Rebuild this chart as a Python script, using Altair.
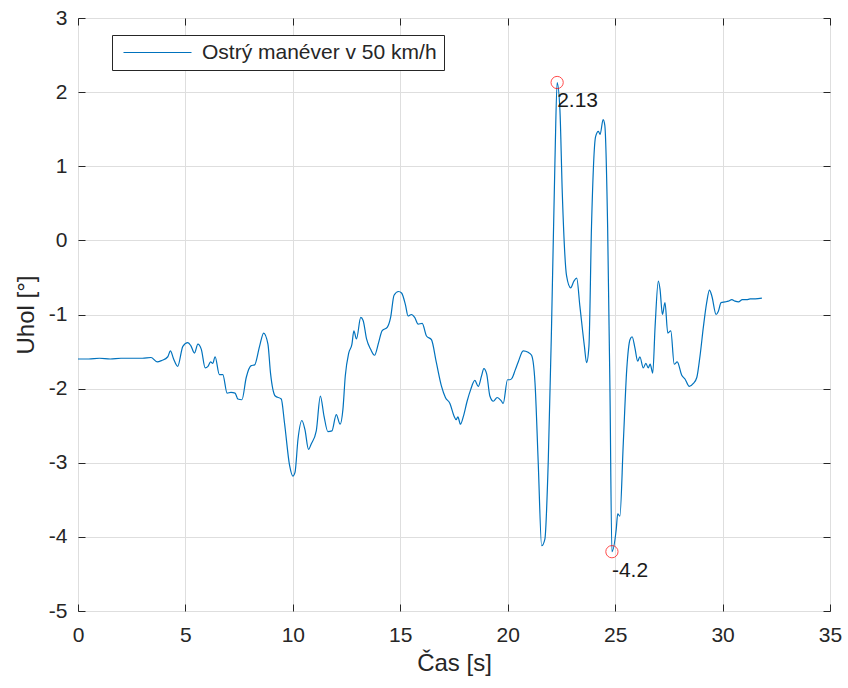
import altair as alt
import pandas as pd

# ---- data ----
time_s = [0.0, 0.5, 1.0, 1.5, 2.0, 2.5, 3.0, 3.4, 3.68, 3.9, 4.18, 4.30, 4.45, 4.64, 4.88, 5.11,
          5.25, 5.42, 5.58, 5.74, 5.92, 6.05, 6.17, 6.27, 6.38, 6.58, 6.74, 6.94, 7.12, 7.31, 7.44,
          7.63, 7.83, 8.06, 8.22, 8.45, 8.64, 8.84, 8.96, 9.18, 9.46, 9.61, 9.85, 10.0, 10.1, 10.24,
          10.42, 10.56, 10.73, 10.85, 11.09, 11.28, 11.45, 11.63, 11.82, 12.02, 12.2, 12.33, 12.44,
          12.6, 12.75, 12.84, 12.96, 13.16, 13.27, 13.43, 13.62, 13.8, 13.99, 14.15, 14.4, 14.55,
          14.71, 14.92, 15.06, 15.24, 15.36, 15.52, 15.67, 15.83, 16.02, 16.22, 16.45, 16.68, 16.92,
          17.1, 17.31, 17.5, 17.6, 17.68, 17.8, 17.94, 18.11, 18.28, 18.47, 18.63, 18.78, 18.89,
          19.02, 19.17, 19.33, 19.51, 19.71, 19.79, 19.99, 20.1, 20.2, 20.36, 20.49, 20.72, 20.95,
          21.11, 21.27, 21.42, 21.58, 21.73, 21.89, 22.04, 22.2, 22.3, 22.43, 22.54, 22.74, 22.93,
          23.08, 23.21, 23.36, 23.57, 23.67, 23.78, 23.9, 24.09, 24.22, 24.3, 24.44, 24.52, 24.65,
          24.76, 24.85, 25.05, 25.12, 25.22, 25.38, 25.54, 25.69, 25.79, 25.92, 26.05, 26.15, 26.31,
          26.43, 26.54, 26.63, 26.75, 26.86, 27.01, 27.09, 27.2, 27.32, 27.45, 27.59, 27.75, 27.89,
          28.1, 28.25, 28.45, 28.64, 28.8, 28.95, 29.11, 29.26, 29.39, 29.5, 29.7, 29.8, 29.93,
          30.12, 30.27, 30.43, 30.58, 30.74, 30.92, 31.12, 31.28, 31.52, 31.83]
angle_deg = [-1.60, -1.60, -1.59, -1.60, -1.59, -1.59, -1.59, -1.58, -1.64, -1.62, -1.57, -1.49,
             -1.60, -1.70, -1.43, -1.38, -1.42, -1.52, -1.40, -1.47, -1.72, -1.70, -1.64, -1.66,
             -1.57, -1.81, -1.81, -2.06, -2.05, -2.06, -2.14, -2.15, -1.85, -1.69, -1.68, -1.43,
             -1.25, -1.40, -1.79, -2.10, -2.14, -2.46, -3.04, -3.18, -3.13, -2.68, -2.43, -2.55,
             -2.82, -2.75, -2.57, -2.10, -2.37, -2.58, -2.57, -2.35, -2.48, -2.28, -1.83, -1.52,
             -1.40, -1.22, -1.33, -1.04, -1.08, -1.33, -1.47, -1.55, -1.38, -1.22, -1.17, -1.04,
             -0.74, -0.69, -0.71, -0.87, -1.02, -1.00, -1.04, -1.13, -1.12, -1.29, -1.34, -1.65,
             -1.97, -2.12, -2.20, -2.37, -2.42, -2.38, -2.48, -2.37, -2.17, -2.01, -1.89, -1.97,
             -1.83, -1.73, -1.80, -2.10, -2.17, -2.12, -2.17, -2.20, -1.88, -1.88, -1.86, -1.74,
             -1.64, -1.49, -1.51, -1.55, -1.92, -3.00, -4.12, -4.03, -2.95, -1.16, 1.09, 2.13,
             1.76, 0.64, -0.48, -0.64, -0.55, -0.51, -0.89, -1.43, -1.65, -1.43, 0.19, 1.40, 1.47,
             1.43, 1.63, 1.55, 0.19, -2.05, -4.20, -3.90, -3.69, -3.72, -2.73, -1.74, -1.34, -1.30,
             -1.45, -1.63, -1.57, -1.72, -1.66, -1.72, -1.67, -1.79, -1.16, -0.55, -0.66, -1.00,
             -0.84, -1.25, -1.22, -1.67, -1.64, -1.82, -1.87, -1.97, -1.93, -1.85, -1.56, -1.16,
             -0.84, -0.67, -0.75, -1.00, -0.96, -0.84, -0.83, -0.82, -0.80, -0.82, -0.83, -0.80,
             -0.80, -0.79, -0.79, -0.78]
series_name = "Ostrý manéver v 50 km/h"

peak_t = [22.30, 24.85]
peak_v = [2.13, -4.2]
peak_labels = ["2.13", "-4.2"]

x_ticks = [0, 5, 10, 15, 20, 25, 30, 35]
y_ticks = [-5, -4, -3, -2, -1, 0, 1, 2, 3]

# ---- layout ----
W, H = 752, 593
FONT = "Liberation Sans"
INK = "#262626"

df = pd.DataFrame({"t": time_s, "v": angle_deg, "s": [series_name] * len(time_s)})
peaks = pd.DataFrame({"t": peak_t, "v": peak_v, "lbl": peak_labels})

xs = alt.Scale(domain=[0, 35], nice=False, zero=False)
ys = alt.Scale(domain=[-5, 3], nice=False, zero=False)

line = alt.Chart(df).mark_line(strokeWidth=1.2, interpolate="monotone").encode(
    x=alt.X("t:Q", scale=xs, axis=alt.Axis(
        values=x_ticks, title="Čas [s]", grid=True, gridColor="#dedede", ticks=False, tickSize=0,
        domain=False, labelPadding=13, labelFontSize=21, titleFontSize=24, titleY=52,
        titleBaseline="middle", labelFlush=False, labelExpr="'' + datum.value")),
    y=alt.Y("v:Q", scale=ys, axis=alt.Axis(
        values=y_ticks, title="Uhol [°]", grid=True, gridColor="#dedede", ticks=False, tickSize=0,
        domain=False, labelPadding=11, labelFontSize=21, titleFontSize=24, titleX=-52,
        titleY=H / 2, titleAngle=270, titleBaseline="middle", titleAlign="center",
        labelFlush=False, labelExpr="'' + datum.value")),
    color=alt.Color("s:N", scale=alt.Scale(range=["#0072BD"]), legend=alt.Legend(
        title=None, orient="none", legendX=34, legendY=17, strokeColor=INK, fillColor="white",
        padding=7, symbolType="M-5,0H5", symbolSize=185, symbolStrokeWidth=1.2,
        symbolOffset=28, labelOffset=34, labelLimit=0,
        labelFontSize=21, labelFont=FONT, labelColor=INK, cornerRadius=0)),
)

def tick_layer(xorient, yorient):
    return alt.Chart(peaks).mark_point(opacity=0).encode(
        x=alt.X("t:Q", scale=xs, axis=alt.Axis(
            values=x_ticks, orient=xorient, offset=-H, labels=False, grid=False, domain=False,
            ticks=True, tickSize=7, tickColor=INK, title=None)),
        y=alt.Y("v:Q", scale=ys, axis=alt.Axis(
            values=y_ticks, orient=yorient, offset=-W, labels=False, grid=False, domain=False,
            ticks=True, tickSize=7, tickColor=INK, title=None)),
    )

ticks_a = tick_layer("top", "right")   # lands at bottom / left edges, pointing inward
ticks_b = tick_layer("bottom", "left")  # lands at top / right edges, pointing inward

marks = alt.Chart(peaks).mark_point(shape="circle", filled=False, color="red", size=150,
                                    strokeWidth=1).encode(
    x=alt.X("t:Q", scale=xs, axis=None),
    y=alt.Y("v:Q", scale=ys, axis=None),
)
labels = alt.Chart(peaks).mark_text(align="left", baseline="top", dy=8, fontSize=21,
                                    font=FONT, color="#1a1a1a").encode(
    x=alt.X("t:Q", scale=xs, axis=None),
    y=alt.Y("v:Q", scale=ys, axis=None),
    text="lbl:N",
)

chart = alt.layer(line, ticks_a, ticks_b, marks, labels).resolve_axis(
    x="independent", y="independent"
).properties(
    width=W, height=H,
    autosize=alt.AutoSizeParams(type="none"),
    padding={"left": 78, "top": 18, "right": 848 - 78 - W, "bottom": 688 - 18 - H},
    background="white",
).configure_axis(
    labelFont=FONT, titleFont=FONT, labelColor=INK, titleColor=INK, titleFontWeight="normal",
).configure_view(
    stroke="#3a3a3a", strokeWidth=1,
)

chart.save("out.html", embed_options={"renderer": "svg", "actions": False})
